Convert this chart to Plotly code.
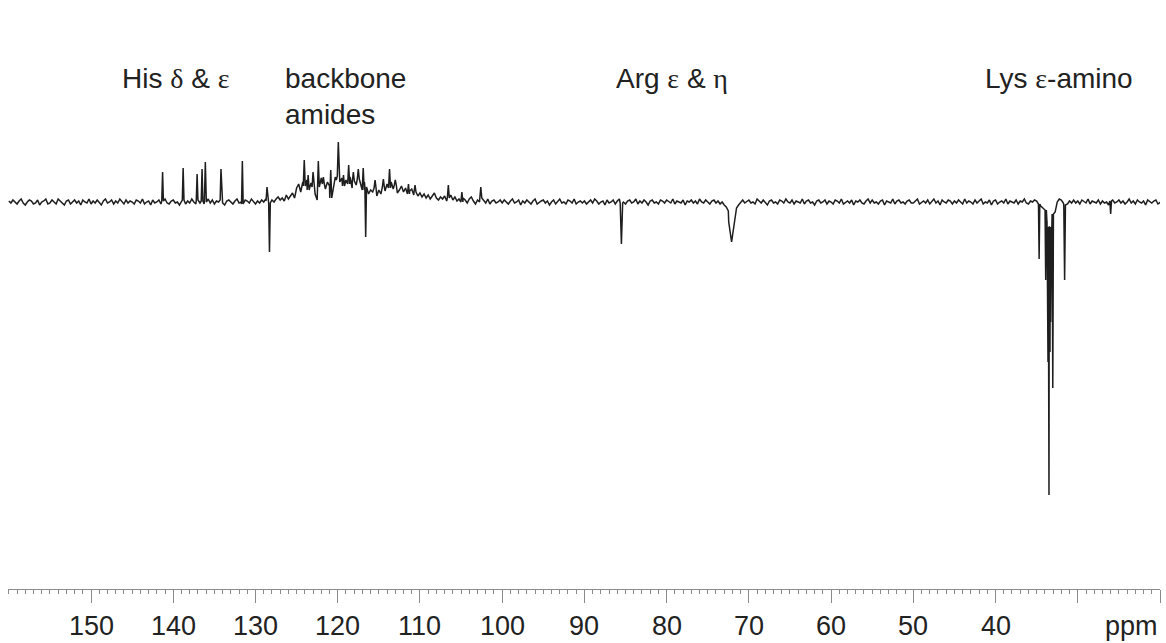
import numpy as np
import plotly.graph_objects as go

# ---- data (ppm, intensity in arbitrary units) ----
baseline_start = 160.0
baseline_step = 0.25
baseline_values = [
    # 160 - 155.25
    1, -1, 2, 0, -2, 1, 3, -1, -3, 0, 2, 1, -2, -1, 2, -3, 0, 1, 3, -2,
    # 155
    -1, 2, 0, -2, 3, 1, -1, -3, 1, 2, -2, 0, 2, -1, 1, -3, 2, 0, -1, 3,
    # 150
    -2, 1, -1, 2, 0, -3, 1, 3, -1, 0, 2, -2, 1, -1, 3, 0, -2, 2, -1, 1,
    # 145
    0, -2, 2, 1, -1, 3, -2, 0, 1, -3, 2, -1, 0, 2, -2, 1, 3, -1, -2, 1,
    # 140
    2, -1, 0, -3, 1, 2, -2, 1, -1, 3, 0, -2, 2, -1, 1, -2, 0, 3, -1, 2,
    # 135
    -2, 1, 0, 2, -1, -3, 1, 2, 0, -2, 1, 3, -1, 0, -2, 2, 1, -1, 3, 0,
    # 130
    -2, 1, -1, 2, 0, 3, 1, -1, 2, 0, 3, 5, 2, 4, 1, 7, 3, 6, 9, 4,
    # 125 (backbone hump)
    14, 18, 10, 20, 16, 22, 12, 19, 15, 8, 2, 15, 24, 18, 13, 20, 16, 4, 18, 22,
    # 120
    26, 20, 24, 16, 22, 18, 25, 14, 21, 17, 23, 19, 12, 20, 15, 8, 12, 10, 14, 6,
    # 115
    12, 8, 15, 11, 18, 14, 20, 13, 17, 9, 12, 16, 10, 14, 8, 11, 13, 7, 10, 6,
    # 110
    9, 5, 8, 4, 7, 3, 6, 9, 4, 2, 5, 3, 6, 1, 4, 7, 2, 5, 1, 3,
    # 105
    0, 4, 2, -1, 3, 5, 1, -2, 2, 0, 4, 1, -1, 3, -2, 1, 2, -1, 0, 2,
    # 100
    -1, 2, 0, -2, 1, 3, -1, 0, 2, -3, 1, -1, 2, 0, -2, 1, 3, -2, 0, 1,
    # 95
    2, -1, 1, -3, 0, 2, -2, 1, 3, -1, 0, -2, 2, 1, -1, 3, -2, 0, 1, -1,
    # 90
    1, -2, 0, 2, -1, 3, 1, -2, 0, 1, -3, 2, -1, 0, 2, -2, 1, 3, -1, 0,
    # 85
    -2, 1, 2, -1, 0, 3, -2, 1, -1, 2, 0, -3, 1, 2, -1, 0, -2, 2, 1, -1,
    # 80
    2, 0, -1, 3, -2, 1, 0, -1, 2, -3, 1, 0, 2, -1, 1, -2, 3, 0, -1, 2,
    # 75
    0, -2, 1, 2, -1, 1, -2, 0, -3, -5, -9, -14, -20, -12, -6, -3, 0, 2, -1, 1,
    # 70
    2, -1, 0, -2, 3, 1, -1, 2, 0, -3, 1, 2, -1, 0, -2, 2, 1, -1, 3, 0,
    # 65
    -1, 2, -2, 1, 0, -1, 3, -2, 1, 2, -1, 0, -3, 1, 2, -1, 0, 2, -2, 1,
    # 60
    0, -2, 2, 1, -1, 3, -2, 0, 1, -1, 2, -3, 1, 0, 2, -1, -2, 1, 3, -1,
    # 55
    2, -1, 0, -2, 1, 2, -3, 1, 0, -1, 3, -2, 1, 2, -1, 0, -2, 1, 2, -1,
    # 50
    -1, 1, 3, -2, 0, 1, -1, 2, -2, 0, 3, -1, 1, -3, 2, 0, -1, 2, 1, -2,
    # 45
    1, -1, 2, 0, -2, 3, -1, 1, 0, -2, 2, -1, 1, 3, -2, 0, -1, 2, -3, 1,
    # 40
    2, -2, 0, 1, -1, 3, -2, 1, 0, -1, 2, -2, 1, 0, 3, -1, -2, 1, 0, 2,
    # 35 (Lys region)
    1, -2, -4, -6, -8, -20, -25, -60, -12, -10, 0, 3, 2, -1, -3, -2, 1, -1, 2, -1,
    # 30
    1, -2, 2, 0, -1, 3, -2, 1, 0, -1, 2, -2, 1, -1, 0, -3, 1, 2, -1, 0,
    # 25
    2, -1, 1, -2, 0, 3, -1, 1, -2, 2, 0, -1, 1, -3, 2, 0, -1, 1, 2, -2,
    # 20 - 19.75
    0, 1,
]

peak_ppm = [141.3, 138.8, 137.1, 136.5, 136.1, 134.2, 131.6, 128.6, 128.3,
            124.07, 123.6, 123.0, 122.36, 121.75, 120.85, 120.3, 119.93, 119.3,
            118.67, 118.1, 117.5, 116.9, 116.6, 115.46, 114.45, 113.7, 113.0,
            111.4, 110.6, 106.55, 104.9, 102.6,
            85.5, 72.1,
            34.7, 33.9, 33.7, 33.62, 33.56, 33.5, 33.44, 33.38, 33.3, 33.04,
            31.6, 26.0]
peak_height = [30, 34, 28, 33, 40, 33, 41, 15, -50,
               42, 27, 30, 41, 25, 32, 25, 60, 27,
               37, 30, 33, 34, -35, 22, 23, 33, 22,
               18, 17, 17, 10, 15,
               -42, -40,
               -57, -78, -140, -160, -155, -293, -145, -150, -120, -186,
               -78, -12]
peak_halfwidth = [0.1, 0.1, 0.1, 0.1, 0.12, 0.1, 0.1, 0.12, 0.1,
                  0.12, 0.12, 0.12, 0.12, 0.12, 0.12, 0.12, 0.12, 0.12,
                  0.12, 0.12, 0.12, 0.12, 0.1, 0.12, 0.12, 0.12, 0.12,
                  0.12, 0.12, 0.12, 0.12, 0.12,
                  0.15, 0.35,
                  0.08, 0.08, 0.04, 0.04, 0.03, 0.05, 0.03, 0.04, 0.04, 0.08,
                  0.1, 0.1]

tick_values = [150, 140, 130, 120, 110, 100, 90, 80, 70, 60, 50, 40, 30, 20]
tick_labels = ["150", "140", "130", "120", "110", "100", "90", "80", "70",
               "60", "50", "40", "", ""]
unit_label = "ppm"

G = '<span style="font-family:Liberation Serif, Times New Roman, serif">'
label_texts = ["His " + G + "δ</span> & " + G + "ε</span>",
               "backbone<br>amides",
               "Arg " + G + "ε</span> & " + G + "η</span>",
               "Lys " + G + "ε</span>-amino"]
label_ppm = [139.7, 126.6, 79.3, 32.3]
label_int = [141, 141, 141, 141]
label_anchor = ["center", "left", "center", "center"]

# ---- build the polyline from baseline samples and read peak vertices ----
base_ppm = baseline_start - baseline_step * np.arange(len(baseline_values))
base_val = np.array(baseline_values, dtype=float)

pts = []
for p, v in zip(base_ppm, base_val):
    inside = any(abs(p - pp) <= hw for pp, hw in zip(peak_ppm, peak_halfwidth))
    if not inside:
        pts.append((p, v))
for pp, h, hw in zip(peak_ppm, peak_height, peak_halfwidth):
    nb = base_val[int(np.argmin(np.abs(base_ppm - pp)))]
    pts.append((pp + hw, nb))
    pts.append((pp, h))
    pts.append((pp - hw, nb))
pts.sort(key=lambda t: -t[0])
xs = [t[0] for t in pts]
ys = [t[1] for t in pts]

FONT = "Liberation Sans, Arial, Helvetica, sans-serif"
TEXT = "#222222"
AXC = "#8a8a8a"

fig = go.Figure()
fig.add_trace(go.Scatter(x=xs, y=ys, mode="lines",
                         line=dict(color="#1e1e1e", width=1.5),
                         hoverinfo="skip", showlegend=False))

for t, xp, yi, anc in zip(label_texts, label_ppm, label_int, label_anchor):
    fig.add_annotation(x=xp, y=yi, xref="x", yref="y", text=t, showarrow=False,
                       xanchor=anc, yanchor="top", align="left",
                       font=dict(family=FONT, size=28, color=TEXT))

# tick labels placed just below the ticks
for tv, tt in zip(tick_values, tick_labels):
    if tt:
        fig.add_annotation(x=tv, y=-0.062, xref="x", yref="paper", text=tt,
                           showarrow=False, xanchor="center", yanchor="middle",
                           font=dict(family=FONT, size=27, color=TEXT))

fig.add_annotation(x=20.0, y=-0.062, xref="x", yref="paper", text=unit_label,
                   showarrow=False, xanchor="right", yanchor="middle",
                   font=dict(family=FONT, size=27, color=TEXT))

fig.update_layout(
    width=1166, height=643,
    margin=dict(l=8, r=6, t=0, b=54),
    paper_bgcolor="white", plot_bgcolor="white",
    showlegend=False,
    xaxis=dict(range=[160.1, 20.0], showline=True, linecolor=AXC,
               linewidth=1, ticks="outside", ticklen=13, tickwidth=1,
               tickcolor=AXC, tickmode="array", tickvals=tick_values,
               ticktext=["" for _ in tick_values], showgrid=False,
               zeroline=False,
               minor=dict(dtick=1, tick0=0, ticks="outside", ticklen=4,
                          tickwidth=1, tickcolor=AXC, showgrid=False)),
    yaxis=dict(range=[-387, 202], visible=False, showgrid=False,
               zeroline=False),
)

fig.write_html("out.html",
               config={"displayModeBar": False},
               post_script="document.body.style.margin='0px';"
                           "document.body.style.overflow='hidden';")
